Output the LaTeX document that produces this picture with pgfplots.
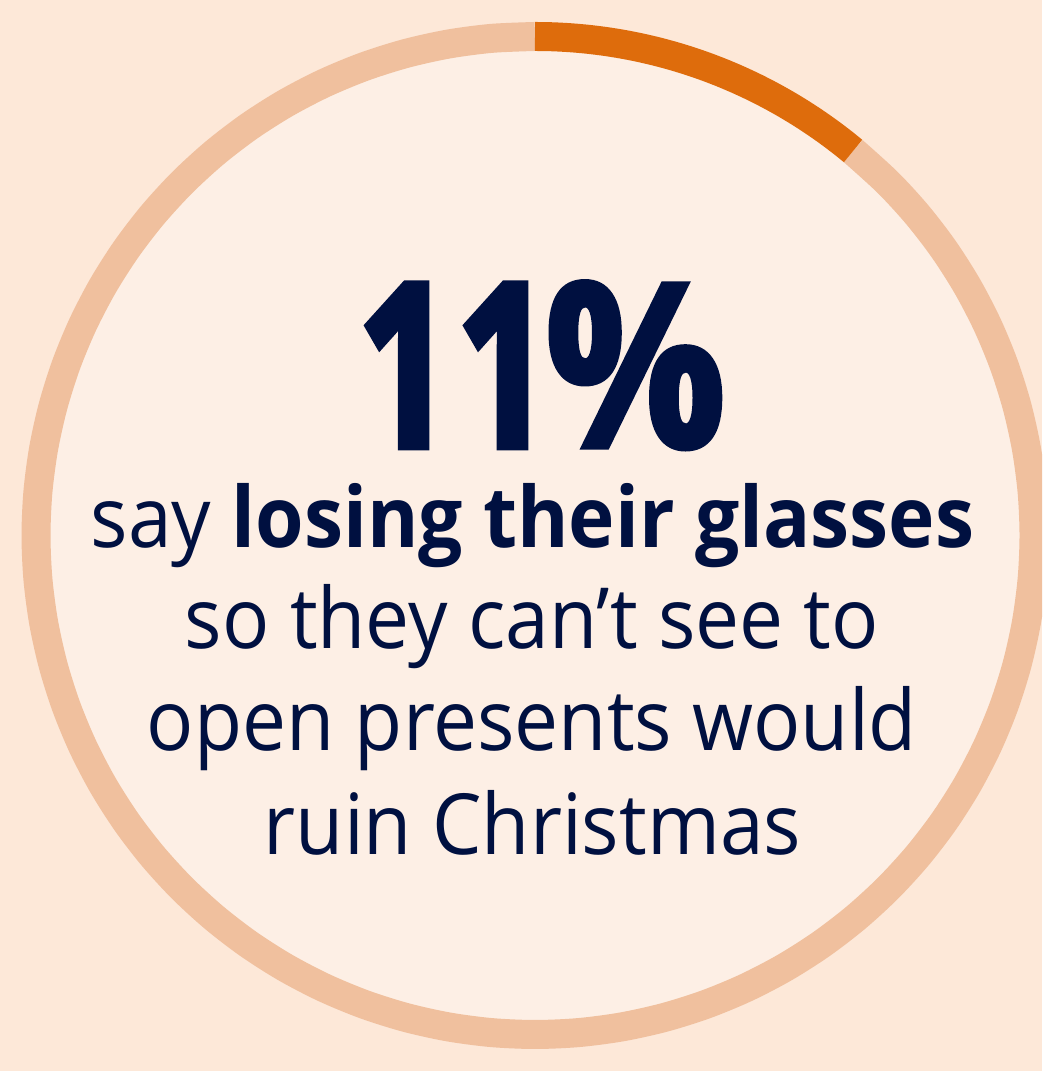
\documentclass[border=0pt]{standalone}
\usepackage{pgfplots}
\pgfplotsset{compat=1.18}
\usepackage{fontspec}
\setmainfont{Open Sans}[FakeStretch=0.93, BoldFeatures={FakeStretch=0.93}]
\newfontfamily\heavy{Open Sans}[BoldFeatures={FakeBold=3, FakeStretch=0.72}]
\newfontfamily\heavypct{Open Sans}[BoldFeatures={FakeBold=2.2, FakeStretch=0.88}]
\definecolor{bg}{HTML}{FDE8D8}
\definecolor{inner}{HTML}{FDEFE5}
\definecolor{ring}{HTML}{F0C09E}
\definecolor{hl}{HTML}{DE6C0C}
\definecolor{navy}{HTML}{001040}
\begin{document}
\begin{tikzpicture}
\useasboundingbox (0,0) rectangle (10.42,10.71);
\fill[bg] (0,0) rectangle (10.42,10.71);
\begin{axis}[at={(0,0)}, anchor=south west, scale only axis,
  width=10.42cm, height=10.71cm,
  xmin=-535, xmax=507, ymin=-535.5, ymax=535.5,
  hide axis, clip=true]
% inner disc
\addplot[draw=none, fill=inner, smooth, data cs=polar] coordinates {
(0,499) (5,499) (10,499) (15,499) (20,499) (25,499) (30,499) (35,499) (40,499) (45,499)
(50,499) (55,499) (60,499) (65,499) (70,499) (75,499) (80,499) (85,499) (90,499) (95,499)
(100,499) (105,499) (110,499) (115,499) (120,499) (125,499) (130,499) (135,499) (140,499) (145,499)
(150,499) (155,499) (160,499) (165,499) (170,499) (175,499) (180,499) (185,499) (190,499) (195,499)
(200,499) (205,499) (210,499) (215,499) (220,499) (225,499) (230,499) (235,499) (240,499) (245,499)
(250,499) (255,499) (260,499) (265,499) (270,499) (275,499) (280,499) (285,499) (290,499) (295,499)
(300,499) (305,499) (310,499) (315,499) (320,499) (325,499) (330,499) (335,499) (340,499) (345,499)
(350,499) (355,499) (360,499)} --cycle;
% remaining 89 %
\addplot[ring, line width=0.29cm, smooth, data cs=polar] coordinates {
(50.4,499) (45,499) (40,499) (35,499) (30,499) (25,499) (20,499) (15,499) (10,499) (5,499)
(0,499) (-5,499) (-10,499) (-15,499) (-20,499) (-25,499) (-30,499) (-35,499) (-40,499) (-45,499)
(-50,499) (-55,499) (-60,499) (-65,499) (-70,499) (-75,499) (-80,499) (-85,499) (-90,499) (-95,499)
(-100,499) (-105,499) (-110,499) (-115,499) (-120,499) (-125,499) (-130,499) (-135,499) (-140,499) (-145,499)
(-150,499) (-155,499) (-160,499) (-165,499) (-170,499) (-175,499) (-180,499) (-185,499) (-190,499) (-195,499)
(-200,499) (-205,499) (-210,499) (-215,499) (-220,499) (-225,499) (-230,499) (-235,499) (-240,499) (-245,499)
(-250,499) (-255,499) (-260,499) (-265,499) (-270,499)};
% 11 %
\addplot[hl, line width=0.29cm, smooth, data cs=polar] coordinates {
(90,499) (88,499) (86,499) (84,499) (82,499) (80,499) (78,499) (76,499) (74,499) (72,499)
(70,499) (68,499) (66,499) (64,499) (62,499) (60,499) (58,499) (56,499) (54,499) (52,499) (50.4,499)};
\node[anchor=base, text=navy, inner sep=0pt] at (axis cs:7,88.5)
  {{\heavy\bfseries\fontsize{65}{65}\selectfont 1\kern0.05cm 1}\kern-0.06cm{\heavypct\bfseries\fontsize{65}{65}\selectfont\%}};
\node[anchor=base, text=navy, font=\fontsize{24}{24}\selectfont, inner sep=0pt] at (axis cs:-2.5,-12.5) {say \textbf{losing their glasses}};
\node[anchor=base, text=navy, font=\fontsize{24}{24}\selectfont, inner sep=0pt] at (axis cs:-3,-113.5) {so they can’t see to};
\node[anchor=base, text=navy, font=\fontsize{24}{24}\selectfont, inner sep=0pt] at (axis cs:-3,-215.5) {open presents would};
\node[anchor=base, text=navy, font=\fontsize{24}{24}\selectfont, inner sep=0pt] at (axis cs:-2.5,-319.5) {ruin Christmas};
\end{axis}
\end{tikzpicture}
\end{document}
